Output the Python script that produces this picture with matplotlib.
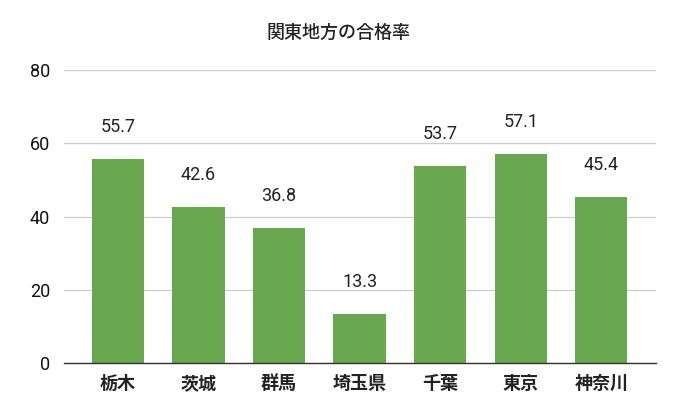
import matplotlib
matplotlib.use("Agg")
import matplotlib.pyplot as plt

categories = ["栃木", "茨城", "群馬", "埼玉県", "千葉", "東京", "神奈川"]
values = [55.7, 42.6, 36.8, 13.3, 53.7, 57.1, 45.4]
yticks = [0, 20, 40, 60, 80]
title = "関東地方の合格率"

fams = ["Roboto", "Noto Sans CJK JP", "DejaVu Sans"]
plt.rcParams["font.family"] = fams

fig = plt.figure(figsize=(6.76, 4.18), dpi=100)
ax = fig.add_axes([64/676, 1-363/418, (656-64)/676, (363-70)/418])

x = list(range(len(categories)))
ax.bar(x, values, width=0.65, color="#6aa84f", zorder=3)
for xi, v in zip(x, values):
    ax.annotate(f"{v}", (xi, v), xytext=(0, 23), textcoords="offset points",
                ha="center", va="center", fontsize=13, color="#222222")

ax.set_xlim(-0.67, len(categories) - 1 + 0.68)
ax.set_ylim(0, 80)
ax.set_yticks(yticks)
ax.set_yticklabels([str(t) for t in yticks], fontsize=13, color="#111111")
ax.tick_params(axis="both", length=0)
ax.tick_params(axis="y", pad=10)
ax.set_xticks(x)
ax.set_xticklabels(categories, fontsize=13, fontweight="bold", color="#222222",
                   family=["Noto Sans CJK JP", "DejaVu Sans"])
ax.tick_params(axis="x", pad=8)
ax.grid(axis="y", color="#cccccc", linewidth=0.9, zorder=0)
for s in ["top", "right", "left"]:
    ax.spines[s].set_visible(False)
ax.spines["bottom"].set_color("#333333")
ax.spines["bottom"].set_linewidth(1.0)
ax.spines["bottom"].set_zorder(4)

fig.text(338/676, 1-33/418, title, ha="center", va="center", fontsize=13,
         family=["Noto Sans CJK JP", "DejaVu Sans"], color="#222222", fontweight="medium")

fig.savefig("out.png", dpi=100)
